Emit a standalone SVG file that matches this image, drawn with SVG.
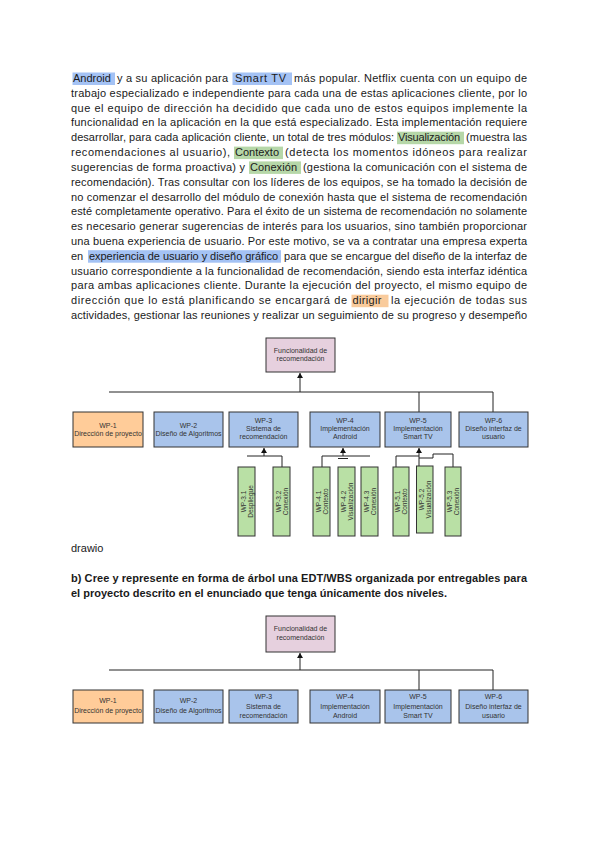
<svg xmlns="http://www.w3.org/2000/svg" width="600" height="848" viewBox="0 0 600 848">
<defs>
<style>
.p{font-family:"Liberation Sans",Arial,sans-serif;font-size:11px;fill:#1a1a1a}
.b{font-weight:bold}
.n{font-family:"Liberation Sans",Arial,sans-serif;font-size:7px;fill:#333;text-anchor:middle}
.g{font-family:"Liberation Sans",Arial,sans-serif;font-size:6.5px;fill:#333;text-anchor:middle}
.box{stroke:#333;stroke-width:1}
.blue{fill:#a9c4eb}.org{fill:#ffcc99}.root{fill:#e6d0de}.grn{fill:#b9e0a5}
.ln{stroke:#222;stroke-width:1;fill:none}
.hb{fill:#a4c2f4}.hg{fill:#b6d7a8}.ho{fill:#f9cb9c}
</style>
<marker id="ah" markerUnits="userSpaceOnUse" markerWidth="6" markerHeight="6" refX="5" refY="3" orient="auto">
<path d="M0,0 L5,3 L0,6 Z" fill="#111"/>
</marker>
</defs>
<rect width="600" height="848" fill="#fff"/>

<!-- highlights -->
<g id="highlights">
<rect class="hb" x="72.5" y="72.5" width="42.5" height="12.5"/>
<rect class="hb" x="232.5" y="72.5" width="59.5" height="12.5"/>
<rect class="hg" x="397" y="131.7" width="67" height="12.5"/>
<rect class="hg" x="234" y="146.6" width="49" height="12.5"/>
<rect class="hg" x="249" y="161.4" width="52" height="12.5"/>
<rect class="hb" x="88" y="250.2" width="193" height="12.5"/>
<rect class="ho" x="351.5" y="294.7" width="37" height="12.5"/>
</g>

<g id="paragraph" class="p">
<text x="73" y="82">Android</text>
<text x="117" y="82" textLength="111" lengthAdjust="spacing">y a su aplicación para</text>
<text x="235" y="82" textLength="51" lengthAdjust="spacing">Smart TV</text>
<text x="294" y="82" textLength="233" lengthAdjust="spacing">más popular. Netflix cuenta con un equipo de</text>
<text x="71" y="96.8" textLength="456" lengthAdjust="spacing">trabajo especializado e independiente para cada una de estas aplicaciones cliente, por lo</text>
<text x="71" y="111.6" textLength="456" lengthAdjust="spacing">que el equipo de dirección ha decidido que cada uno de estos equipos implemente la</text>
<text x="71" y="126.4" textLength="456" lengthAdjust="spacing">funcionalidad en la aplicación en la que está especializado. Esta implementación requiere</text>
<text x="71" y="141.2" textLength="323" lengthAdjust="spacing">desarrollar, para cada aplicación cliente, un total de tres módulos:</text>
<text x="398" y="141.2" textLength="62" lengthAdjust="spacing">Visualización</text>
<text x="466" y="141.2" textLength="61" lengthAdjust="spacing">(muestra las</text>
<text x="71" y="156.1" textLength="159" lengthAdjust="spacing">recomendaciones al usuario),</text>
<text x="235" y="156.1" textLength="44" lengthAdjust="spacing">Contexto</text>
<text x="285" y="156.1" textLength="242" lengthAdjust="spacing">(detecta los momentos idóneos para realizar</text>
<text x="71" y="170.9" textLength="174" lengthAdjust="spacing">sugerencias de forma proactiva) y</text>
<text x="250" y="170.9" textLength="47" lengthAdjust="spacing">Conexión</text>
<text x="303" y="170.9" textLength="224" lengthAdjust="spacing">(gestiona la comunicación con el sistema de</text>
<text x="71" y="185.7" textLength="456" lengthAdjust="spacing">recomendación). Tras consultar con los líderes de los equipos, se ha tomado la decisión de</text>
<text x="71" y="200.5" textLength="456" lengthAdjust="spacing">no comenzar el desarrollo del módulo de conexión hasta que el sistema de recomendación</text>
<text x="71" y="215.3" textLength="456" lengthAdjust="spacing">esté completamente operativo. Para el éxito de un sistema de recomendación no solamente</text>
<text x="71" y="230.1" textLength="456" lengthAdjust="spacing">es necesario generar sugerencias de interés para los usuarios, sino también proporcionar</text>
<text x="71" y="244.9" textLength="456" lengthAdjust="spacing">una buena experiencia de usuario. Por este motivo, se va a contratar una empresa experta</text>
<text x="71" y="259.7">en</text>
<text x="89" y="259.7" textLength="189" lengthAdjust="spacing">experiencia de usuario y diseño gráfico</text>
<text x="284" y="259.7" textLength="243" lengthAdjust="spacing">para que se encargue del diseño de la interfaz de</text>
<text x="71" y="274.5" textLength="456" lengthAdjust="spacing">usuario correspondiente a la funcionalidad de recomendación, siendo esta interfaz idéntica</text>
<text x="71" y="289.3" textLength="456" lengthAdjust="spacing">para ambas aplicaciones cliente. Durante la ejecución del proyecto, el mismo equipo de</text>
<text x="71" y="304.2" textLength="276" lengthAdjust="spacing">dirección que lo está planificando se encargará de</text>
<text x="352.5" y="304.2" textLength="29" lengthAdjust="spacing">dirigir</text>
<text x="391" y="304.2" textLength="136" lengthAdjust="spacing">la ejecución de todas sus</text>
<text x="71" y="319" textLength="456" lengthAdjust="spacing">actividades, gestionar las reuniones y realizar un seguimiento de su progreso y desempeño</text>
</g>

<!-- Diagram 1 connectors -->
<g id="d1-connectors" class="ln">
<path d="M109,392 H493"/>
<path d="M300,392 V373" marker-end="url(#ah)"/>
<path d="M419,392 V412"/>
<path d="M493,392 V412"/>
<path d="M264,456 V448" marker-end="url(#ah)"/>
<path d="M247,456 H282 V467"/>
<path d="M343,456 V448" marker-end="url(#ah)"/>
<path d="M322,467 V456 H370"/>
<path d="M338,458.5 H348"/>
<path d="M419,466 V448" marker-end="url(#ah)"/>
<path d="M396,467 V456 H419"/>
<path d="M419,458 H433 V454 H453 V467"/>
</g>

<!-- Diagram 1 nodes -->
<g id="d1-root"><rect class="box root" x="266" y="338" width="69" height="34"/>
<text class="n" x="300.5" y="353">Funcionalidad de</text><text class="n" x="300.5" y="361">recomendación</text></g>
<g id="d1-wp1"><rect class="box org" x="73" y="412" width="70" height="35"/>
<text class="n" x="108" y="428">WP-1</text><text class="n" x="108" y="436">Dirección de proyecto</text></g>
<g id="d1-wp2"><rect class="box blue" x="154" y="412" width="69" height="35"/>
<text class="n" x="188.5" y="428">WP-2</text><text class="n" x="188.5" y="436">Diseño de Algoritmos</text></g>
<g id="d1-wp3"><rect class="box blue" x="229" y="412" width="69" height="35"/>
<text class="n" x="263.5" y="423">WP-3</text><text class="n" x="263.5" y="431">Sistema de</text><text class="n" x="263.5" y="439">recomendación</text></g>
<g id="d1-wp4"><rect class="box blue" x="310" y="412" width="70" height="35"/>
<text class="n" x="345" y="423">WP-4</text><text class="n" x="345" y="431">Implementación</text><text class="n" x="345" y="439">Android</text></g>
<g id="d1-wp5"><rect class="box blue" x="385" y="412" width="66" height="35"/>
<text class="n" x="418" y="423">WP-5</text><text class="n" x="418" y="431">Implementación</text><text class="n" x="418" y="439">Smart TV</text></g>
<g id="d1-wp6"><rect class="box blue" x="459" y="412" width="69" height="35"/>
<text class="n" x="493.5" y="423">WP-6</text><text class="n" x="493.5" y="431">Diseño interfaz de</text><text class="n" x="493.5" y="439">usuario</text></g>

<g id="d1-wp31"><rect class="box grn" x="238" y="467" width="17" height="69"/>
<g transform="translate(246.5,501.5) rotate(-90)"><text class="g" x="0" y="-1">WP-3.1</text><text class="g" x="0" y="6">Despliegue</text></g></g>
<g id="d1-wp32"><rect class="box grn" x="273" y="467" width="17" height="69"/>
<g transform="translate(281.5,501.5) rotate(-90)"><text class="g" x="0" y="-1">WP-3.2</text><text class="g" x="0" y="6">Conexión</text></g></g>
<g id="d1-wp41"><rect class="box grn" x="313" y="467" width="17" height="69"/>
<g transform="translate(321.5,501.5) rotate(-90)"><text class="g" x="0" y="-1">WP-4.1</text><text class="g" x="0" y="6">Contexto</text></g></g>
<g id="d1-wp42"><rect class="box grn" x="338" y="467" width="17" height="69"/>
<g transform="translate(346.5,501.5) rotate(-90)"><text class="g" x="0" y="-1">WP-4.2</text><text class="g" x="0" y="6">Visualización</text></g></g>
<g id="d1-wp43"><rect class="box grn" x="361" y="467" width="17" height="69"/>
<g transform="translate(369.5,501.5) rotate(-90)"><text class="g" x="0" y="-1">WP-4.3</text><text class="g" x="0" y="6">Conexión</text></g></g>
<g id="d1-wp51"><rect class="box grn" x="393" y="467" width="16" height="69"/>
<g transform="translate(401,501.5) rotate(-90)"><text class="g" x="0" y="-1">WP-5.1</text><text class="g" x="0" y="6">Contexto</text></g></g>
<g id="d1-wp52"><rect class="box grn" x="416.5" y="466" width="16.5" height="67" stroke="#111" stroke-width="1.3"/>
<g transform="translate(424.75,499.5) rotate(-90)"><text class="g" x="0" y="-1">WP-5.2</text><text class="g" x="0" y="6">Visualización</text></g></g>
<g id="d1-wp53"><rect class="box grn" x="445" y="467" width="16" height="69"/>
<g transform="translate(453,501.5) rotate(-90)"><text class="g" x="0" y="-1">WP-5.3</text><text class="g" x="0" y="6">Conexión</text></g></g>

<text class="p" x="71" y="552">drawio</text>
<g id="heading" class="p b">
<text x="71" y="582" textLength="456" lengthAdjust="spacing">b) Cree y represente en forma de árbol una EDT/WBS organizada por entregables para</text>
<text x="71" y="597">el proyecto descrito en el enunciado que tenga únicamente dos niveles.</text>
</g>

<!-- Diagram 2 connectors -->
<g id="d2-connectors" class="ln">
<path d="M109,670 H493"/>
<path d="M300,670 V653" marker-end="url(#ah)"/>
<path d="M419,670 V690"/>
<path d="M493,670 V690"/>
</g>

<g id="d2-root"><rect class="box root" x="266" y="616" width="69" height="36"/>
<text class="n" x="300.5" y="631">Funcionalidad de</text><text class="n" x="300.5" y="640">recomendación</text></g>
<g id="d2-wp1"><rect class="box org" x="73" y="690" width="70" height="33"/>
<text class="n" x="108" y="703">WP-1</text><text class="n" x="108" y="713">Dirección de proyecto</text></g>
<g id="d2-wp2"><rect class="box blue" x="154" y="690" width="69" height="33"/>
<text class="n" x="188.5" y="703">WP-2</text><text class="n" x="188.5" y="713">Diseño de Algoritmos</text></g>
<g id="d2-wp3"><rect class="box blue" x="229" y="690" width="69" height="33"/>
<text class="n" x="263.5" y="699">WP-3</text><text class="n" x="263.5" y="708.5">Sistema de</text><text class="n" x="263.5" y="718">recomendación</text></g>
<g id="d2-wp4"><rect class="box blue" x="310" y="690" width="70" height="33"/>
<text class="n" x="345" y="699">WP-4</text><text class="n" x="345" y="708.5">Implementación</text><text class="n" x="345" y="718">Android</text></g>
<g id="d2-wp5"><rect class="box blue" x="385" y="690" width="66" height="33"/>
<text class="n" x="418" y="699">WP-5</text><text class="n" x="418" y="708.5">Implementación</text><text class="n" x="418" y="718">Smart TV</text></g>
<g id="d2-wp6"><rect class="box blue" x="459" y="690" width="69" height="33"/>
<text class="n" x="493.5" y="699">WP-6</text><text class="n" x="493.5" y="708.5">Diseño interfaz de</text><text class="n" x="493.5" y="718">usuario</text></g>
</svg>
